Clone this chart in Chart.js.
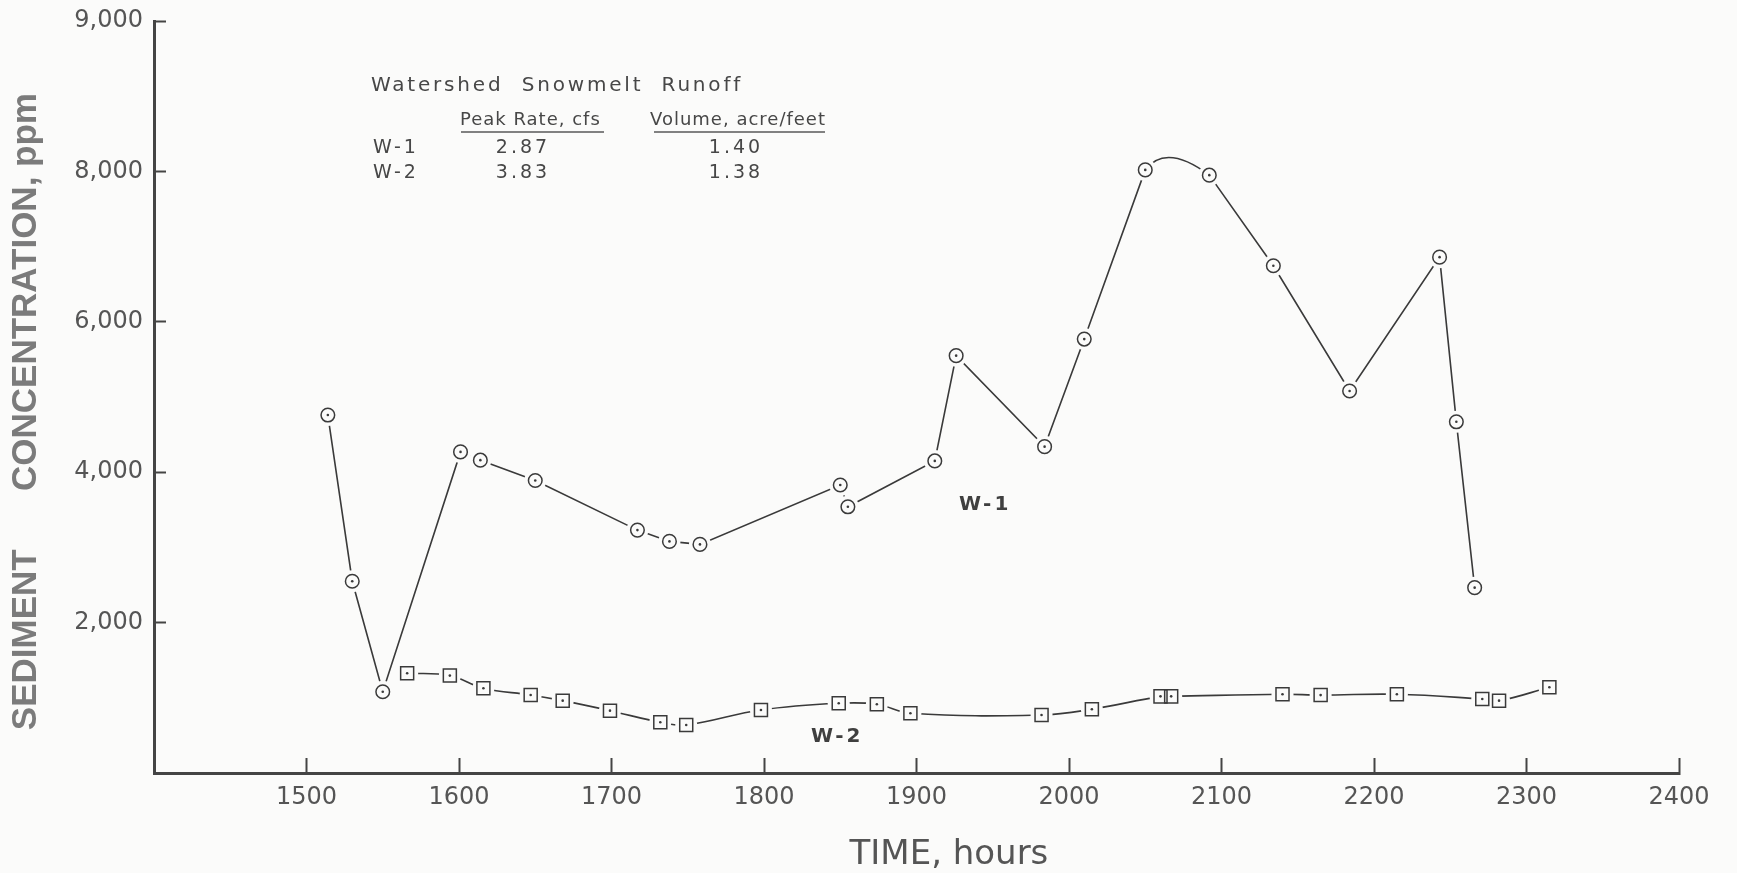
<!DOCTYPE html>
<html>
<head>
<meta charset="utf-8">
<script src="https://cdn.jsdelivr.net/npm/chart.js@4.4.1/dist/chart.umd.min.js"></script>
<style>
  html, body { margin: 0; padding: 0; background: #fbfbfa; }
  canvas { display: block; }
</style>
</head>
<body>
<canvas id="chart" width="1737" height="873"></canvas>
<script>
// Sampling time (hours) and sediment concentration (ppm) for watershed W-1
const w1Hours = [1514, 1530, 1550, 1601, 1614, 1650, 1717, 1738, 1758, 1850, 1855, 1912, 1926, 1984, 2010, 2050, 2092, 2134, 2184, 2243, 2254, 2266];
const w1Ppm   = [4760, 2550, 1080, 4270, 4160, 3890, 3230, 3080, 3040, 3830, 3540, 4150, 5550, 4340, 5770, 8020, 7950, 6745, 5080, 6860, 4670, 2465];

// Sampling time (hours) and sediment concentration (ppm) for watershed W-2
const w2Hours = [1566, 1594, 1616, 1647, 1668, 1699, 1732, 1749, 1798, 1849, 1874, 1896, 1982, 2015, 2060, 2067, 2140, 2165, 2215, 2271, 2282, 2315];
const w2Ppm   = [1327, 1295, 1127, 1038, 962, 829, 675, 639, 838, 927, 914, 794, 772, 848, 1019, 1019, 1047, 1036, 1047, 985, 962, 1140];

// Axis ticks and their printed labels
const hourTicks      = [1500, 1600, 1700, 1800, 1900, 2000, 2100, 2200, 2300, 2400];
const hourTickLabels = ['1500', '1600', '1700', '1800', '1900', '2000', '2100', '2200', '2300', '2400'];
const ppmTicks       = [2000, 4000, 6000, 8000, 10000];
const ppmTickLabels  = ['2,000', '4,000', '6,000', '8,000', '9,000'];

// Runoff summary table
const tableTitle    = 'Watershed  Snowmelt  Runoff';
const tableHeads    = ['Peak Rate, cfs', 'Volume, acre/feet'];
const watersheds    = ['W-1', 'W-2'];
const peakRates     = [2.87, 3.83];
const runoffVolumes = [1.40, 1.38];

const PAPER = '#fbfbfa';
const INK = '#3a3a3a';
const ARC_SEGMENT = 15; // W-1 segment drawn as a rounded crest

const w1Points = w1Hours.map((h, i) => ({ x: h, y: w1Ppm[i] }));
const w2Points = w2Hours.map((h, i) => ({ x: h, y: w2Ppm[i] }));

const lineBase = { pointRadius: 0, pointHoverRadius: 0, borderColor: INK, borderWidth: 1.6, fill: false };
const markBase = { showLine: false, pointHoverRadius: 0 };

function labelFor(ticks, labels) {
  return (value) => {
    const i = ticks.indexOf(value);
    return i >= 0 ? labels[i] : '';
  };
}

// Summary table and series tags drawn over the plot
const runoffTable = {
  id: 'runoffTable',
  afterDatasetsDraw(chart) {
    const { ctx, chartArea: a, scales } = chart;
    const L = a.left, T = a.top;
    ctx.save();
    ctx.fillStyle = '#474747';
    ctx.strokeStyle = '#5a5a5a';
    ctx.textBaseline = 'alphabetic';

    ctx.font = '20px "DejaVu Sans"';
    ctx.letterSpacing = '2.8px';
    ctx.textAlign = 'left';
    ctx.fillText(tableTitle, L + 217, T + 70);

    ctx.font = '18px "DejaVu Sans"';
    ctx.letterSpacing = '1px';
    ctx.fillText(tableHeads[0], L + 306, T + 104);
    ctx.fillText(tableHeads[1], L + 496, T + 104);

    ctx.lineWidth = 1.5;
    ctx.beginPath();
    ctx.moveTo(L + 307, T + 111); ctx.lineTo(L + 450, T + 111);
    ctx.moveTo(L + 500, T + 111); ctx.lineTo(L + 671, T + 111);
    ctx.stroke();

    ctx.font = '19px "DejaVu Sans"';
    watersheds.forEach((w, i) => {
      const base = T + 132 + i * 25;
      ctx.textAlign = 'left';
      ctx.letterSpacing = '3px';
      ctx.fillText(w, L + 219, base);
      ctx.textAlign = 'center';
      ctx.fillText(peakRates[i].toFixed(2), L + 369, base);
      ctx.fillText(runoffVolumes[i].toFixed(2), L + 582, base);
    });

    // series tags
    ctx.font = 'bold 20px "DejaVu Sans"';
    ctx.fillStyle = '#3f3f3f';
    ctx.letterSpacing = '3px';
    ctx.textAlign = 'center';
    ctx.textBaseline = 'middle';
    ctx.fillText(watersheds[0], scales.x.getPixelForValue(1945), scales.y.getPixelForValue(3566));
    ctx.fillText(watersheds[1], scales.x.getPixelForValue(1848), scales.y.getPixelForValue(479));
    ctx.restore();
  }
};

new Chart(document.getElementById('chart'), {
  type: 'line',
  data: {
    datasets: [
      // markers (drawn last)
      { ...markBase, data: w1Points, order: 0, pointStyle: 'circle', pointRadius: 1.3, pointBackgroundColor: INK, pointBorderWidth: 0 },
      { ...markBase, data: w2Points, order: 1, pointStyle: 'circle', pointRadius: 1.3, pointBackgroundColor: INK, pointBorderWidth: 0 },
      { ...markBase, data: w1Points, order: 2, pointStyle: 'circle', pointRadius: 6.8, pointBackgroundColor: 'rgba(0,0,0,0)', pointBorderColor: INK, pointBorderWidth: 1.5 },
      { ...markBase, data: w2Points, order: 3, pointStyle: 'rect', pointRadius: 9.2, pointBackgroundColor: 'rgba(0,0,0,0)', pointBorderColor: INK, pointBorderWidth: 1.5 },
      // paper-coloured halos that break the lines around each marker
      { ...markBase, data: w1Points, order: 4, pointStyle: 'circle', pointRadius: 11, pointBackgroundColor: PAPER, pointBorderWidth: 0 },
      { ...markBase, data: w2Points, order: 5, pointStyle: 'circle', pointRadius: 11, pointBackgroundColor: PAPER, pointBorderWidth: 0 },
      // W-1: straight segments, with the crest drawn as a curve
      { ...lineBase, label: 'W-1', data: w1Points, order: 6, tension: 0,
        segment: { borderColor: c => c.p0DataIndex === ARC_SEGMENT ? 'rgba(0,0,0,0)' : INK } },
      { ...lineBase, label: 'W-1 crest', data: w1Points, order: 7, tension: 0.5,
        segment: { borderColor: c => c.p0DataIndex === ARC_SEGMENT ? INK : 'rgba(0,0,0,0)' } },
      // W-2: smooth curve
      { ...lineBase, label: 'W-2', data: w2Points, order: 8, tension: 0.4 }
    ]
  },
  options: {
    responsive: false,
    animation: false,
    devicePixelRatio: 1,
    events: [],
    layout: { padding: { top: 21, right: 58, bottom: 0, left: 0 } },
    plugins: { legend: { display: false }, tooltip: { enabled: false } },
    scales: {
      x: {
        type: 'linear',
        min: 1400,
        max: 2400,
        afterBuildTicks: s => { s.ticks = hourTicks.map(v => ({ value: v })); },
        afterFit: s => { s.height = 100; s.paddingLeft = 0; s.paddingRight = 0; },
        border: { display: true, color: '#444', width: 3 },
        grid: { display: true, drawOnChartArea: false, drawTicks: true, tickLength: -15, tickWidth: 2, tickColor: '#444' },
        ticks: {
          autoSkip: false, maxRotation: 0, padding: 25, color: '#555',
          font: { family: '"DejaVu Sans"', size: 24 },
          callback: labelFor(hourTicks, hourTickLabels)
        },
        title: {
          display: true, text: '      TIME, hours', color: '#555',
          font: { family: '"DejaVu Sans"', size: 34 },
          padding: { top: 0, bottom: -3 }
        }
      },
      y: {
        type: 'linear',
        min: 0,
        max: 10000,
        afterBuildTicks: s => { s.ticks = ppmTicks.map(v => ({ value: v })); },
        afterFit: s => { s.width = 154; s.paddingTop = 0; s.paddingBottom = 0; },
        border: { display: true, color: '#444', width: 3 },
        grid: { display: true, drawOnChartArea: false, drawTicks: true, tickLength: -12, tickWidth: 2, tickColor: '#444' },
        ticks: {
          autoSkip: false, padding: 23, color: '#555',
          font: { family: '"DejaVu Sans"', size: 24 },
          callback: labelFor(ppmTicks, ppmTickLabels)
        },
        title: {
          display: true, text: 'SEDIMENT      CONCENTRATION, ppm   ', color: '#7b7b7b',
          font: { family: '"Liberation Sans"', size: 35, weight: 'bold' },
          padding: { top: 5, bottom: 0 }
        }
      }
    }
  },
  plugins: [runoffTable]
});
</script>
</body>
</html>
